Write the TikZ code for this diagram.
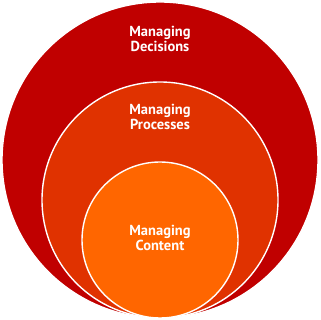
\documentclass[tikz,border=0pt]{standalone}
\usepackage{fontspec}
\setmainfont{PT Sans}
\definecolor{decred}{HTML}{C00000}
\definecolor{procred}{HTML}{E03200}
\definecolor{contorange}{HTML}{FF6600}
\begin{document}
\begin{tikzpicture}[
  x=1pt, y=1pt,
  ring/.style={circle, draw=white, line width=1.4pt, inner sep=0pt},
  lbl/.style={text=white, align=center, font=\bfseries\fontsize{14.5}{15.5}\selectfont},
]
\useasboundingbox (0,0) rectangle (320,320);

% ---------------- nested rings, all touching at the bottom ----------------
\node[ring, fill=decred,     minimum size=316] (dec)  at (160,160) {};
\node[ring, fill=procred,    minimum size=236] (proc) at (160,120) {};
\node[ring, fill=contorange, minimum size=156] (cont) at (160, 80) {};

% ---------------- labels ----------------
\node[lbl] (declbl)  at (160,281) {Managing\\Decisions};
\node[lbl] (proclbl) at (160,203) {Managing\\Processes};
\node[lbl] (contlbl) at (160, 82) {Managing\\Content};

\end{tikzpicture}
\end{document}
